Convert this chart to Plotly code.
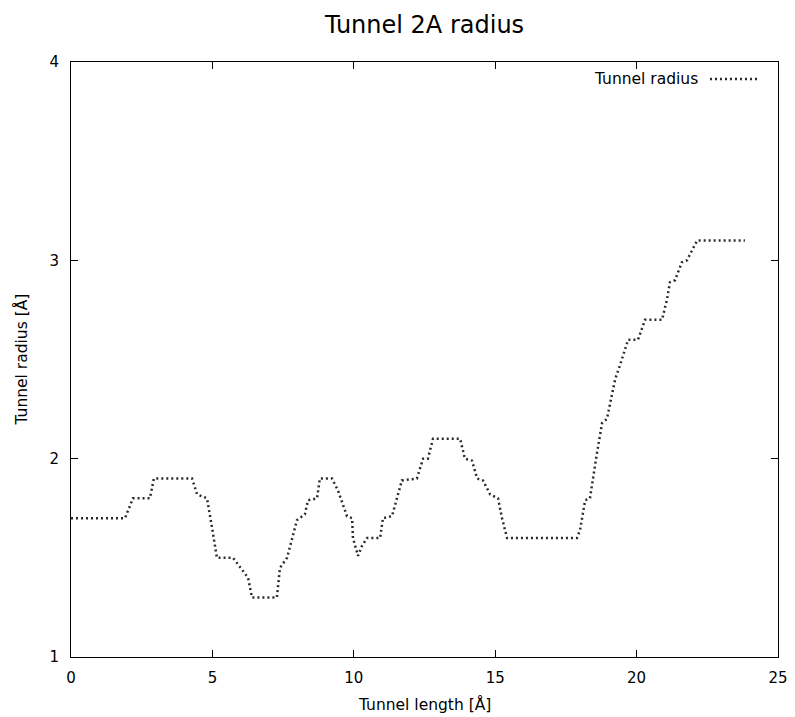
import plotly.graph_objects as go

# Tunnel profile (length in Å, radius in Å)
tunnel_length = [0.00, 1.91, 2.19, 2.79, 2.93, 4.28, 4.46, 4.81, 4.99, 5.16, 5.73,
                 6.26, 6.40, 7.28, 7.39, 7.64, 7.99, 8.27, 8.38, 8.70, 8.80, 9.23,
                 9.44, 9.76, 9.94, 9.97, 10.15, 10.29, 10.47, 10.93, 11.03, 11.35,
                 11.70, 12.23, 12.45, 12.62, 12.80, 13.76, 13.93, 14.18, 14.36,
                 14.57, 14.82, 15.10, 15.24, 15.42, 17.89, 18.00, 18.18, 18.35,
                 18.60, 18.78, 18.95, 19.24, 19.41, 19.70, 20.05, 20.30, 20.90,
                 21.07, 21.18, 21.36, 21.60, 21.78, 22.14, 23.83]
tunnel_radius = [1.70, 1.70, 1.80, 1.80, 1.90, 1.90, 1.82, 1.80, 1.65, 1.50, 1.50,
                 1.40, 1.30, 1.30, 1.45, 1.50, 1.69, 1.72, 1.79, 1.80, 1.90, 1.90,
                 1.84, 1.71, 1.70, 1.60, 1.51, 1.56, 1.60, 1.60, 1.70, 1.71,
                 1.89, 1.90, 2.00, 2.00, 2.10, 2.10, 2.00, 1.99, 1.90,
                 1.89, 1.82, 1.80, 1.70, 1.60, 1.60, 1.64, 1.79, 1.80,
                 2.03, 2.18, 2.20, 2.40, 2.47, 2.60, 2.60, 2.70, 2.70,
                 2.80, 2.89, 2.90, 2.99, 3.00, 3.10, 3.10]

x_ticks = [0, 5, 10, 15, 20, 25]
y_ticks = [1, 2, 3, 4]

FONT = "DejaVu Sans"
LINE_COLOR = "#2a2a2a"
TXT = 15.5

fig = go.Figure()
fig.add_trace(go.Scatter(
    x=tunnel_length, y=tunnel_radius, mode="lines", name="Tunnel radius",
    line=dict(color=LINE_COLOR, width=2.5, dash="2px,3px"),
    showlegend=False,
))

axis_common = dict(
    showline=True, linecolor="black", linewidth=1, mirror="ticks",
    ticks="inside", ticklen=7, tickcolor="black", tickwidth=1,
    showgrid=False, zeroline=False, automargin=False,
    tickfont=dict(family=FONT, size=15, color="black"),
)

fig.update_layout(
    width=795, height=717,
    margin=dict(l=71, r=17, t=62, b=60, autoexpand=False),
    paper_bgcolor="white", plot_bgcolor="white",
    font=dict(family=FONT, color="black"),
    title=dict(text="Tunnel 2A radius", x=0.5, xref="paper", xanchor="center",
               y=0.965, yanchor="middle", yref="container",
               font=dict(family=FONT, size=24, color="black")),
    xaxis=dict(range=[0, 25], tickvals=x_ticks, ticklabelstandoff=7, **axis_common),
    yaxis=dict(range=[1, 4], tickvals=y_ticks, ticklabelstandoff=8, **axis_common),
)

# axis titles
fig.add_annotation(x=0.5, y=0, xref="paper", yref="paper", text="Tunnel length [Å]",
                   showarrow=False, xanchor="center", yanchor="middle", yshift=-47,
                   font=dict(family=FONT, size=TXT, color="black"))
fig.add_annotation(x=0, y=0.5, xref="paper", yref="paper", text="Tunnel radius [Å]",
                   showarrow=False, xanchor="center", yanchor="middle", xshift=-50,
                   textangle=-90, font=dict(family=FONT, size=TXT, color="black"))

# gnuplot-style key: label on the left, line sample on the right
fig.add_annotation(x=0.8897, y=0.9714, xref="paper", yref="paper",
                   text="Tunnel radius", showarrow=False, xanchor="right", yanchor="middle",
                   font=dict(family=FONT, size=TXT, color="black"))
fig.add_shape(type="line", xref="paper", yref="paper",
              x0=0.9038, x1=0.9717, y0=0.9714, y1=0.9714,
              line=dict(color=LINE_COLOR, width=2.5, dash="2px,3px"))

fig.write_html("out.html")
